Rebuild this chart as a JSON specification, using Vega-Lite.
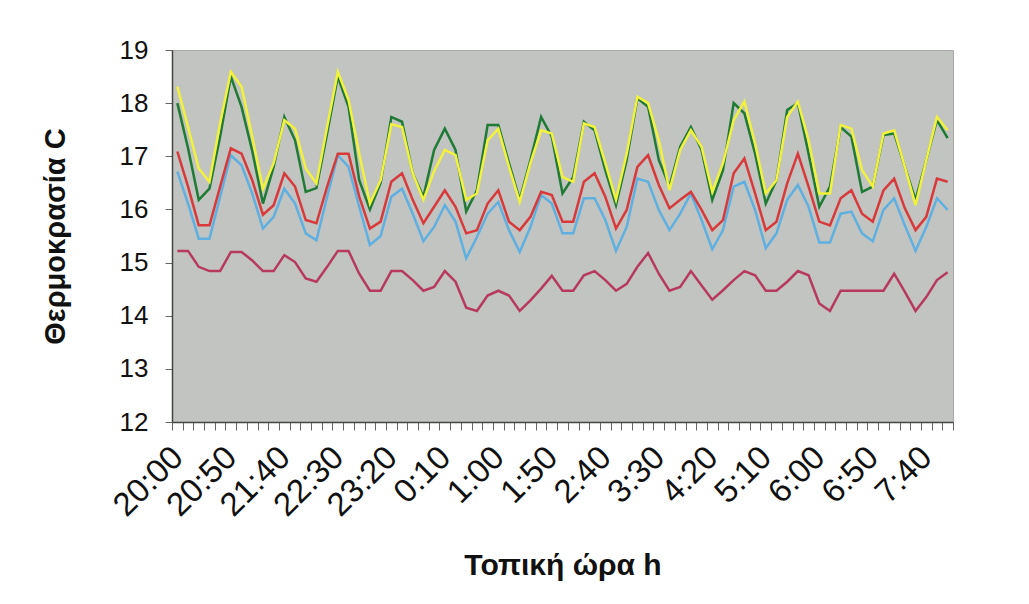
{
  "$schema": "https://vega.github.io/schema/vega-lite/v6.json",
  "width": 781,
  "height": 372,
  "autosize": "none",
  "padding": {"left": 172, "top": 50, "right": 76, "bottom": 182},
  "background": "white",
  "config": {
    "font": "Liberation Sans",
    "view": {"fill": "#c2c4c1", "stroke": "#a8a8a8", "strokeWidth": 1}
  },
  "data": {
    "values": [
      {"t": "20:00", "G": 18.0, "Y": 18.31, "R": 17.09, "B": 16.71, "M": 15.22},
      {"t": "20:10", "G": 17.15, "Y": 17.55, "R": 16.43, "B": 16.11, "M": 15.22},
      {"t": "20:20", "G": 16.18, "Y": 16.77, "R": 15.7, "B": 15.45, "M": 14.92},
      {"t": "20:30", "G": 16.39, "Y": 16.52, "R": 15.7, "B": 15.45, "M": 14.84},
      {"t": "20:40", "G": 17.37, "Y": 17.62, "R": 16.43, "B": 16.24, "M": 14.84},
      {"t": "20:50", "G": 18.5, "Y": 18.59, "R": 17.15, "B": 17.02, "M": 15.2},
      {"t": "21:00", "G": 17.93, "Y": 18.31, "R": 17.05, "B": 16.83, "M": 15.2},
      {"t": "21:10", "G": 17.1, "Y": 17.37, "R": 16.55, "B": 16.3, "M": 15.04},
      {"t": "21:20", "G": 16.11, "Y": 16.39, "R": 15.9, "B": 15.64, "M": 14.84},
      {"t": "21:30", "G": 16.8, "Y": 16.87, "R": 16.08, "B": 15.86, "M": 14.84},
      {"t": "21:40", "G": 17.74, "Y": 17.68, "R": 16.68, "B": 16.39, "M": 15.14},
      {"t": "21:50", "G": 17.3, "Y": 17.52, "R": 16.43, "B": 16.11, "M": 15.01},
      {"t": "22:00", "G": 16.33, "Y": 16.77, "R": 15.8, "B": 15.55, "M": 14.7},
      {"t": "22:10", "G": 16.4, "Y": 16.49, "R": 15.74, "B": 15.42, "M": 14.64},
      {"t": "22:20", "G": 17.43, "Y": 17.55, "R": 16.43, "B": 16.24, "M": 14.92},
      {"t": "22:30", "G": 18.5, "Y": 18.59, "R": 17.05, "B": 17.02, "M": 15.22},
      {"t": "22:40", "G": 17.93, "Y": 18.06, "R": 17.05, "B": 16.8, "M": 15.22},
      {"t": "22:50", "G": 16.55, "Y": 17.05, "R": 16.24, "B": 16.05, "M": 14.79},
      {"t": "23:00", "G": 16.0, "Y": 16.11, "R": 15.64, "B": 15.33, "M": 14.47},
      {"t": "23:10", "G": 16.5, "Y": 16.55, "R": 15.77, "B": 15.5, "M": 14.47},
      {"t": "23:20", "G": 17.74, "Y": 17.6, "R": 16.52, "B": 16.24, "M": 14.84},
      {"t": "23:30", "G": 17.65, "Y": 17.55, "R": 16.68, "B": 16.39, "M": 14.84},
      {"t": "23:40", "G": 16.68, "Y": 16.68, "R": 16.18, "B": 15.92, "M": 14.67},
      {"t": "23:50", "G": 16.24, "Y": 16.18, "R": 15.74, "B": 15.4, "M": 14.47},
      {"t": "0:00", "G": 17.12, "Y": 16.72, "R": 16.05, "B": 15.67, "M": 14.54},
      {"t": "0:10", "G": 17.52, "Y": 17.12, "R": 16.36, "B": 16.08, "M": 14.84},
      {"t": "0:20", "G": 17.12, "Y": 17.02, "R": 16.05, "B": 15.77, "M": 14.64},
      {"t": "0:30", "G": 15.96, "Y": 16.18, "R": 15.55, "B": 15.08, "M": 14.15},
      {"t": "0:40", "G": 16.36, "Y": 16.3, "R": 15.61, "B": 15.48, "M": 14.09},
      {"t": "0:50", "G": 17.59, "Y": 17.3, "R": 16.11, "B": 15.92, "M": 14.38},
      {"t": "1:00", "G": 17.59, "Y": 17.52, "R": 16.36, "B": 16.14, "M": 14.47},
      {"t": "1:10", "G": 16.87, "Y": 16.8, "R": 15.77, "B": 15.61, "M": 14.38},
      {"t": "1:20", "G": 16.18, "Y": 16.14, "R": 15.61, "B": 15.2, "M": 14.09},
      {"t": "1:30", "G": 16.93, "Y": 16.87, "R": 15.86, "B": 15.67, "M": 14.29},
      {"t": "1:40", "G": 17.74, "Y": 17.49, "R": 16.33, "B": 16.27, "M": 14.51},
      {"t": "1:50", "G": 17.37, "Y": 17.43, "R": 16.27, "B": 16.11, "M": 14.75},
      {"t": "2:00", "G": 16.3, "Y": 16.61, "R": 15.77, "B": 15.55, "M": 14.47},
      {"t": "2:10", "G": 16.61, "Y": 16.52, "R": 15.77, "B": 15.55, "M": 14.47},
      {"t": "2:20", "G": 17.65, "Y": 17.62, "R": 16.52, "B": 16.21, "M": 14.76},
      {"t": "2:30", "G": 17.49, "Y": 17.55, "R": 16.68, "B": 16.21, "M": 14.84},
      {"t": "2:40", "G": 16.74, "Y": 16.87, "R": 16.24, "B": 15.8, "M": 14.67},
      {"t": "2:50", "G": 16.08, "Y": 16.18, "R": 15.64, "B": 15.22, "M": 14.47},
      {"t": "3:00", "G": 16.93, "Y": 17.05, "R": 15.99, "B": 15.67, "M": 14.6},
      {"t": "3:10", "G": 18.09, "Y": 18.12, "R": 16.8, "B": 16.58, "M": 14.92},
      {"t": "3:20", "G": 17.93, "Y": 18.0, "R": 17.02, "B": 16.52, "M": 15.18},
      {"t": "3:30", "G": 16.93, "Y": 17.3, "R": 16.46, "B": 15.99, "M": 14.79},
      {"t": "3:40", "G": 16.43, "Y": 16.36, "R": 16.02, "B": 15.61, "M": 14.47},
      {"t": "3:50", "G": 17.18, "Y": 17.12, "R": 16.18, "B": 15.92, "M": 14.54},
      {"t": "4:00", "G": 17.55, "Y": 17.49, "R": 16.33, "B": 16.3, "M": 14.84},
      {"t": "4:10", "G": 17.12, "Y": 17.18, "R": 15.99, "B": 15.8, "M": 14.57},
      {"t": "4:20", "G": 16.18, "Y": 16.33, "R": 15.61, "B": 15.25, "M": 14.3},
      {"t": "4:30", "G": 16.74, "Y": 16.87, "R": 15.8, "B": 15.61, "M": 14.48},
      {"t": "4:40", "G": 18.0, "Y": 17.68, "R": 16.68, "B": 16.43, "M": 14.67},
      {"t": "4:50", "G": 17.81, "Y": 18.03, "R": 16.96, "B": 16.52, "M": 14.84},
      {"t": "5:00", "G": 17.05, "Y": 17.24, "R": 16.3, "B": 15.99, "M": 14.76},
      {"t": "5:10", "G": 16.11, "Y": 16.3, "R": 15.61, "B": 15.27, "M": 14.47},
      {"t": "5:20", "G": 16.55, "Y": 16.55, "R": 15.77, "B": 15.55, "M": 14.47},
      {"t": "5:30", "G": 17.87, "Y": 17.74, "R": 16.49, "B": 16.18, "M": 14.64},
      {"t": "5:40", "G": 18.0, "Y": 18.03, "R": 17.05, "B": 16.46, "M": 14.84},
      {"t": "5:50", "G": 17.05, "Y": 17.3, "R": 16.43, "B": 16.05, "M": 14.76},
      {"t": "6:00", "G": 16.05, "Y": 16.3, "R": 15.77, "B": 15.38, "M": 14.23},
      {"t": "6:10", "G": 16.43, "Y": 16.3, "R": 15.7, "B": 15.38, "M": 14.09},
      {"t": "6:20", "G": 17.55, "Y": 17.59, "R": 16.21, "B": 15.92, "M": 14.47},
      {"t": "6:30", "G": 17.37, "Y": 17.52, "R": 16.36, "B": 15.96, "M": 14.47},
      {"t": "6:40", "G": 16.33, "Y": 16.74, "R": 15.92, "B": 15.55, "M": 14.47},
      {"t": "6:50", "G": 16.43, "Y": 16.43, "R": 15.77, "B": 15.4, "M": 14.47},
      {"t": "7:00", "G": 17.4, "Y": 17.43, "R": 16.36, "B": 15.99, "M": 14.47},
      {"t": "7:10", "G": 17.43, "Y": 17.49, "R": 16.58, "B": 16.21, "M": 14.79},
      {"t": "7:20", "G": 16.8, "Y": 16.8, "R": 16.02, "B": 15.7, "M": 14.45},
      {"t": "7:30", "G": 16.18, "Y": 16.08, "R": 15.61, "B": 15.22, "M": 14.09},
      {"t": "7:40", "G": 16.93, "Y": 16.93, "R": 15.86, "B": 15.67, "M": 14.35},
      {"t": "7:50", "G": 17.68, "Y": 17.74, "R": 16.58, "B": 16.21, "M": 14.67},
      {"t": "8:00", "G": 17.34, "Y": 17.49, "R": 16.52, "B": 15.99, "M": 14.82}
    ]
  },
  "transform": [{"fold": ["M", "B", "R", "G", "Y"], "as": ["series", "value"]}],
  "mark": {"type": "line", "strokeWidth": 2.5, "strokeJoin": "miter"},
  "encoding": {
    "x": {
      "field": "t",
      "type": "ordinal",
      "sort": null,
      "bandPosition": 0.5,
      "scale": {"type": "band", "paddingInner": 0, "paddingOuter": 0},
      "axis": {
        "title": "Τοπική ώρα h",
        "titleFont": "Liberation Sans",
        "titleFontSize": 30,
        "titleFontWeight": "bold",
        "titleColor": "#111",
        "titlePadding": 28,
        "labelFontSize": 33,
        "labelColor": "#111",
        "labelAngle": -45,
        "labelAlign": "right",
        "labelBaseline": "middle",
        "labelPadding": 22,
        "labelOverlap": false,
        "labelExpr": "indexof(['20:00','20:50','21:40','22:30','23:20','0:10','1:00','1:50','2:40','3:30','4:20','5:10','6:00','6:50','7:40'], datum.value) >= 0 ? datum.value : ''",
        "tickBand": "extent",
        "tickSize": 8,
        "tickColor": "#666",
        "domainColor": "#444",
        "domainWidth": 1.5,
        "grid": false
      }
    },
    "y": {
      "field": "value",
      "type": "quantitative",
      "scale": {"domain": [12, 19], "nice": false, "zero": false},
      "axis": {
        "title": "Θερμοκρασία C",
        "titleFont": "Liberation Sans",
        "titleFontSize": 29,
        "titleFontWeight": "bold",
        "titleColor": "#111",
        "titlePadding": 49,
        "values": [12, 13, 14, 15, 16, 17, 18, 19],
        "labelFontSize": 26,
        "labelColor": "#111",
        "labelPadding": 17,
        "tickSize": 7,
        "tickColor": "#666",
        "domainColor": "#444",
        "domainWidth": 1.5,
        "grid": false
      }
    },
    "color": {
      "field": "series",
      "type": "nominal",
      "sort": ["M", "B", "R", "G", "Y"],
      "scale": {"domain": ["M", "B", "R", "G", "Y"], "range": ["#b73a5e", "#5fb0e0", "#d8393a", "#1f7a35", "#f2f23c"]},
      "legend": null
    }
  }
}
